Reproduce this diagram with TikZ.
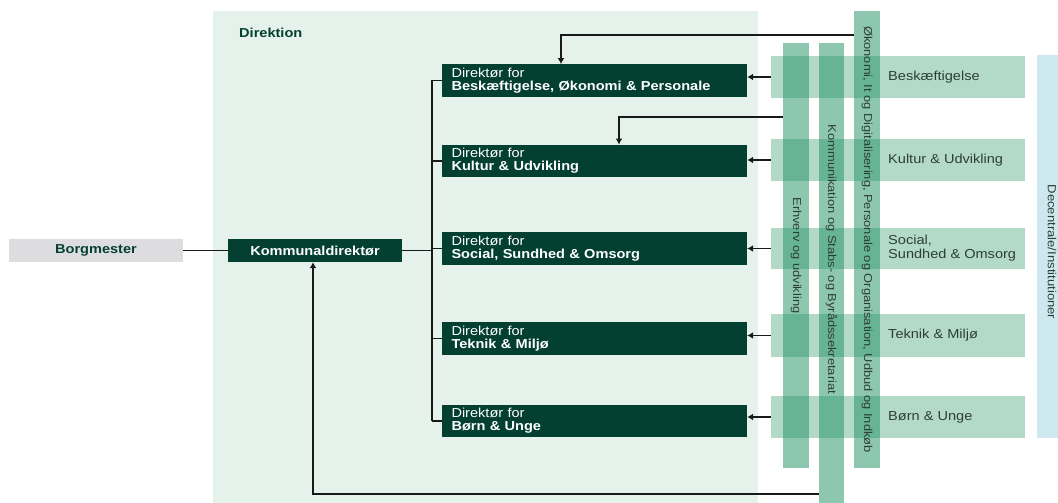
\documentclass[tikz,border=0pt]{standalone}
\usepackage{fontspec}
\setmainfont{Liberation Sans}[FakeStretch=1.12]
\usetikzlibrary{arrows.meta}
\definecolor{dkg}{RGB}{4,64,50}
\definecolor{dirbg}{RGB}{229,242,236}
\definecolor{borggrey}{RGB}{221,221,223}
\definecolor{bandg}{RGB}{20,140,90}
\definecolor{decblue}{RGB}{205,232,238}
\definecolor{bandtext}{RGB}{45,62,56}
\definecolor{linec}{RGB}{25,25,25}
\tikzset{
  dbox/.style={fill=dkg, text=white, minimum width=305, minimum height=32.5,
    text width=286, align=left, inner sep=0, font=\fontsize{13}{13}\selectfont},
  hband/.style={fill=bandg, fill opacity=0.32, minimum width=254, inner sep=0, draw=none},
  vband/.style={fill=bandg, fill opacity=0.48, text opacity=1, rotate=-90, inner sep=0,
    text=bandtext, font=\fontsize{11.5}{11.5}\selectfont},
  vlabel/.style={rotate=-90, inner sep=0, text=bandtext, font=\fontsize{11.5}{11.5}\selectfont},
  blabel/.style={anchor=west, inner sep=0, text=bandtext, align=left,
    font=\fontsize{13}{14}\selectfont},
  conn/.style={draw=linec, line width=1.2},
  arr/.style={conn, -{Latex[length=6,width=7]}},
}
\begin{document}
\begin{tikzpicture}[x=1pt,y=-1pt]
\useasboundingbox (0,0) rectangle (1058,503);
\fill[white] (0,0) rectangle (1058,503);
% Direktion background
\fill[dirbg] (213,11) rectangle (758,503);
\node[anchor=west, inner sep=0, text=dkg, font=\fontsize{13}{13}\selectfont\bfseries] (dirlab) at (239,33) {Direktion};

% horizontal bands
\node[hband, minimum height=42] (hb1) at (898,77) {};
\node[hband, minimum height=42] (hb2) at (898,160) {};
\node[hband, minimum height=41] (hb3) at (898,248.5) {};
\node[hband, minimum height=43] (hb4) at (898,335.5) {};
\node[hband, minimum height=42] (hb5) at (898,417) {};

% decentrale band
\node[fill=decblue, rotate=-90, minimum width=383, minimum height=30, inner sep=0] (dec) at (1052,246.5) {};
\node[vlabel, font=\fontsize{11.7}{11.7}\selectfont] (dectxt) at (1052,252) {Decentrale/Institutioner};

% vertical bands
\node[vband, minimum width=425, minimum height=26] (eb) at (796,255.5) {Erhverv og udvikling};
\node[vband, minimum width=460, minimum height=25] (kb) at (831.5,273) {};
\node[vlabel] (kbtxt) at (831.5,259.5) {Kommunikation og Stabs- og Byrådssekretariat};
\node[vband, minimum width=457, minimum height=26] (ob) at (867,239.5) {Økonomi, It og Digitalisering, Personale og Organisation, Udbud og Indkøb};

% band labels
\node[blabel] (l1) at (888,77) {Beskæftigelse};
\node[blabel] (l2) at (888,160) {Kultur \& Udvikling};
\node[blabel] (l3) at (888,248.5) {Social,\\Sundhed \& Omsorg};
\node[blabel] (l4) at (888,335.5) {Teknik \& Miljø};
\node[blabel] (l5) at (888,417) {Børn \& Unge};

% left boxes
\node[fill=borggrey, text=dkg, minimum width=174, minimum height=23, inner sep=0,
  font=\fontsize{13}{13}\selectfont\bfseries] (borg) at (96,250.5) {Borgmester};
\node[fill=dkg, text=white, minimum width=174, minimum height=23, inner sep=0,
  font=\fontsize{13}{13}\selectfont\bfseries] (kd) at (315,250.5) {Kommunaldirektør};

% director boxes
\node[dbox] (b1) at (594.5,80.5) {Direktør for\\\textbf{Beskæftigelse, Økonomi \& Personale}};
\node[dbox] (b2) at (594.5,161) {Direktør for\\\textbf{Kultur \& Udvikling}};
\node[dbox] (b3) at (594.5,248.3) {Direktør for\\\textbf{Social, Sundhed \& Omsorg}};
\node[dbox] (b4) at (594.5,338.3) {Direktør for\\\textbf{Teknik \& Miljø}};
\node[dbox] (b5) at (594.5,421) {Direktør for\\\textbf{Børn \& Unge}};

% connectors
\coordinate (tr) at (432,0);
\draw[conn] (borg.east) -- (kd.west);
\draw[conn] (kd.east) -- (tr |- kd.east);
\draw[conn] (tr |- b1.west) -- (tr |- b5.west);
\foreach \b in {b1,b2,b3,b4,b5} {\draw[conn] (tr |- \b.west) -- (\b.west);}

\draw[arr] (hb1.west) -- (hb1.west -| b1.east);
\draw[arr] (hb2.west) -- (hb2.west -| b2.east);
\draw[arr] (hb3.west) -- (hb3.west -| b3.east);
\draw[arr] (hb4.west) -- (hb4.west -| b4.east);
\draw[arr] (hb5.west) -- (hb5.west -| b5.east);

\coordinate (c1) at (561,35);
\coordinate (c2) at (619,117);
\coordinate (c3) at (313,494);
\draw[arr] (c1 -| ob.south) -- (c1) -- (c1 |- b1.north);
\draw[arr] (c2 -| eb.south) -- (c2) -- (c2 |- b2.north);
\draw[arr] (c3 -| kb.south) -- (c3) -- (c3 |- kd.south);
\end{tikzpicture}
\end{document}
